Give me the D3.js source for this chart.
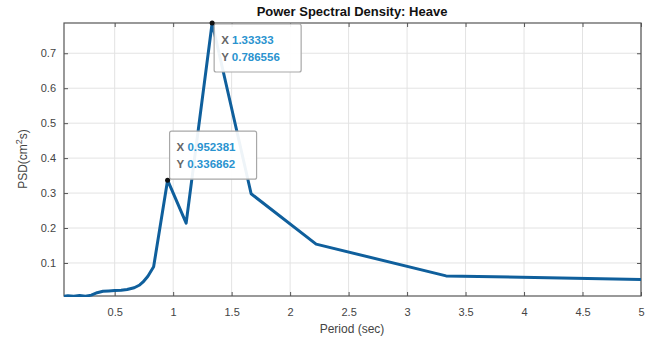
<!DOCTYPE html>
<html><head><meta charset="utf-8">
<script src="https://cdn.jsdelivr.net/npm/d3@7"></script>
<style>
html,body{margin:0;padding:0;background:#fff;}
text{font-family:"Liberation Sans",Arial,sans-serif;}
</style></head>
<body><svg id="c" width="654" height="342"></svg>
<script>
// Data (period in sec, PSD)
const period = [0.0667,0.1,0.15,0.2,0.25,0.3,0.35,0.4,0.45,0.5,0.555,0.606,0.667,0.714,0.741,0.784,0.833,0.952381,1.1111,1.33333,1.6667,2.2222,3.3333,5];
const psd    = [0.005,0.006,0.005,0.007,0.005,0.008,0.015,0.019,0.020,0.021,0.022,0.024,0.029,0.037,0.045,0.062,0.089,0.336862,0.214,0.786556,0.298,0.154,0.063,0.053];
const xTicks = [0.5,1,1.5,2,2.5,3,3.5,4,4.5,5];
const yTicks = [0.1,0.2,0.3,0.4,0.5,0.6,0.7];
const tips = [{x:1.33333,y:0.786556,lx:"1.33333",ly:"0.786556",pos:"below"},{x:0.952381,y:0.336862,lx:"0.952381",ly:"0.336862",pos:"above"}];

const L=64,R=641,T=23,B=296;
const svg=d3.select("#c");
const x=d3.scaleLinear().domain([0.0667,5]).range([L,R]);
const y=d3.scaleLinear().domain([0.0055,0.786556]).range([B,T]);

// grid
svg.append("g").selectAll("line").data(xTicks).join("line")
  .attr("x1",d=>x(d)).attr("x2",d=>x(d)).attr("y1",T).attr("y2",B)
  .attr("stroke","#e3e3e3").attr("stroke-width",1);
svg.append("g").selectAll("line").data(yTicks).join("line")
  .attr("y1",d=>y(d)).attr("y2",d=>y(d)).attr("x1",L).attr("x2",R)
  .attr("stroke","#e3e3e3").attr("stroke-width",1);

// axes
const axB=svg.append("g").attr("transform",`translate(0,${B})`)
  .call(d3.axisBottom(x).tickValues(xTicks).tickSizeInner(-4).tickSizeOuter(0).tickPadding(12).tickFormat(d3.format("~g")));
const axL=svg.append("g").attr("transform",`translate(${L},0)`)
  .call(d3.axisLeft(y).tickValues(yTicks).tickSizeInner(-4).tickSizeOuter(0).tickPadding(8).tickFormat(d3.format("~g")));
const axT=svg.append("g").attr("transform",`translate(0,${T})`)
  .call(d3.axisTop(x).tickValues(xTicks).tickSizeInner(-4).tickSizeOuter(0).tickFormat(""));
const axR=svg.append("g").attr("transform",`translate(${R},0)`)
  .call(d3.axisRight(y).tickValues(yTicks).tickSizeInner(-4).tickSizeOuter(0).tickFormat(""));
[axB,axL,axT,axR].forEach(a=>{
  a.select(".domain").remove();
  a.selectAll(".tick line").attr("stroke","#555");
  a.selectAll("text").attr("fill","#444").style("font-size","11px");
});
svg.append("rect").attr("x",L).attr("y",T).attr("width",R-L).attr("height",B-T)
  .attr("fill","none").attr("stroke","#555").attr("stroke-width",1.2);

// line
const data=period.map((p,i)=>({p,v:psd[i]}));
svg.append("clipPath").attr("id","clip").append("rect").attr("x",L).attr("y",T-3).attr("width",R-L).attr("height",B-T+4);
svg.append("path").datum(data).attr("clip-path","url(#clip)")
  .attr("d",d3.line().x(d=>x(d.p)).y(d=>y(d.v)))
  .attr("fill","none").attr("stroke","#0f5f9c").attr("stroke-width",3).attr("stroke-linejoin","round");

// datatips
tips.forEach(t=>{
  const px=x(t.x), py=y(t.y);
  const w=87, h=48;
  const bx=px+2, by= t.pos==="below" ? py+1 : py-h-1;
  const g=svg.append("g");
  g.append("rect").attr("x",bx).attr("y",by).attr("width",w).attr("height",h).attr("rx",2)
    .attr("fill","rgba(255,255,255,0.93)").attr("stroke","#a8a8a8").attr("stroke-width",1.2);
  const tx=g.append("text").attr("x",bx+7).attr("y",by+20).style("font-size","11.5px").style("font-weight","bold");
  tx.append("tspan").attr("fill","#666").text("X ");
  tx.append("tspan").attr("fill","#2a93cf").text(t.lx);
  const ty=g.append("text").attr("x",bx+7).attr("y",by+37).style("font-size","11.5px").style("font-weight","bold");
  ty.append("tspan").attr("fill","#666").text("Y ");
  ty.append("tspan").attr("fill","#2a93cf").text(t.ly);
  svg.append("circle").attr("cx",px).attr("cy",py).attr("r",2.5).attr("fill","#111");
});

// title and labels
svg.append("text").attr("x",352).attr("y",16).attr("text-anchor","middle")
  .style("font-size","13px").style("font-weight","bold").attr("fill","#111").text("Power Spectral Density: Heave");
svg.append("text").attr("x",352).attr("y",333).attr("text-anchor","middle")
  .style("font-size","12px").attr("fill","#444").text("Period (sec)");
const yl=svg.append("text").attr("transform","translate(27,159) rotate(-90)").attr("text-anchor","middle")
  .style("font-size","12px").attr("fill","#444");
yl.append("tspan").text("PSD(cm");
yl.append("tspan").attr("dy",-5).style("font-size","9px").text("2");
yl.append("tspan").attr("dy",5).text("s)");
</script></body></html>
